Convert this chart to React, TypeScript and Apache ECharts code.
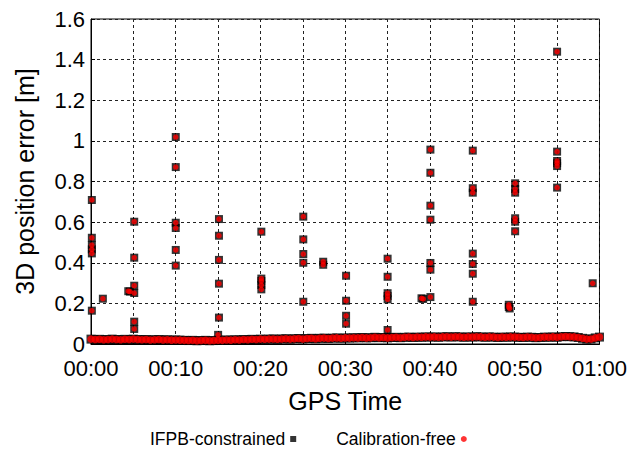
import React, { useEffect, useRef } from "react";
import * as echarts from "echarts";

// Sample spacing of the dense baseline (minutes)
const baselineStep = 0.5;
// 3D position error of the dense baseline, one value per 0.5 min from 00:00 to 01:00
const baselineValues = [
  0.024, 0.022, 0.023, 0.021, 0.022, 0.024, 0.022, 0.021, 0.023, 0.022, 0.024, 0.022, 0.021, 0.022, 0.020, 0.021, 0.022, 0.020, 0.021, 0.019, 0.020,
  0.019, 0.018, 0.017, 0.018, 0.016, 0.017, 0.018, 0.016, 0.017, 0.019, 0.018, 0.020, 0.019, 0.021, 0.020, 0.022, 0.021, 0.023, 0.022, 0.024,
  0.023, 0.024, 0.025, 0.023, 0.025, 0.026, 0.024, 0.026, 0.027, 0.025, 0.027, 0.028, 0.026, 0.028, 0.029, 0.027, 0.029, 0.030, 0.028, 0.030,
  0.029, 0.031, 0.030, 0.032, 0.030, 0.031, 0.033, 0.031, 0.032, 0.030, 0.032, 0.033, 0.031, 0.033, 0.034, 0.032, 0.034, 0.033, 0.035, 0.034,
  0.035, 0.033, 0.035, 0.036, 0.034, 0.036, 0.035, 0.033, 0.035, 0.034, 0.036, 0.035, 0.033, 0.035, 0.034, 0.032, 0.034, 0.033, 0.035, 0.034,
  0.033, 0.032, 0.034, 0.033, 0.031, 0.032, 0.034, 0.033, 0.035, 0.033, 0.036, 0.037, 0.036, 0.035, 0.032, 0.028, 0.024, 0.025, 0.030, 0.034,
];

// Outlier epochs: [minute, error in m]
const outliers: [number, number][] = [
  [0.1, 0.709], [0.1, 0.523], [0.1, 0.487], [0.1, 0.466], [0.1, 0.446], [0.1, 0.164],
  [1.4, 0.223],
  [4.4, 0.26], [4.6, 0.258],
  [5.1, 0.602], [5.1, 0.425], [5.1, 0.287], [5.1, 0.251], [5.1, 0.11], [5.1, 0.074],
  [10.0, 1.019], [10.0, 0.871], [10.0, 0.597], [10.0, 0.571], [10.0, 0.463], [10.0, 0.386],
  [15.1, 0.615], [15.1, 0.533], [15.1, 0.414], [15.1, 0.297], [15.1, 0.13], [15.0, 0.045],
  [20.1, 0.553], [20.1, 0.322], [20.1, 0.31], [20.1, 0.29], [20.1, 0.269],
  [25.05, 0.627], [25.05, 0.515], [25.05, 0.443], [25.05, 0.4], [25.05, 0.208],
  [27.4, 0.405], [27.4, 0.39],
  [30.1, 0.336], [30.1, 0.213], [30.1, 0.139], [30.1, 0.1],
  [35.0, 0.42], [35.0, 0.331], [35.0, 0.25], [35.0, 0.236], [35.0, 0.22], [35.0, 0.069],
  [39.0, 0.225], [39.2, 0.222],
  [40.05, 0.957], [40.05, 0.843], [40.05, 0.681], [40.05, 0.612], [40.05, 0.399], [40.05, 0.366], [40.05, 0.231],
  [45.05, 0.952], [45.05, 0.767], [45.05, 0.745], [45.05, 0.445], [45.05, 0.394], [45.05, 0.346], [45.05, 0.208],
  [49.3, 0.193], [49.3, 0.182], [49.4, 0.175],
  [50.05, 0.791], [50.05, 0.763], [50.05, 0.745], [50.05, 0.619], [50.05, 0.602], [50.05, 0.555],
  [55.0, 1.439], [55.0, 0.947], [55.0, 0.901], [55.0, 0.89], [55.0, 0.876], [55.0, 0.77],
  [59.2, 0.299],
];

const seriesNames = ["IFPB-constrained", "Calibration-free"];
const xTickMinutes = [0, 10, 20, 30, 40, 50, 60];

const FONT = "Liberation Sans, Arial, sans-serif";

function fmtTime(m: number): string {
  const h = Math.floor(m / 60);
  const mm = Math.round(m % 60);
  return `${String(h).padStart(2, "0")}:${String(mm).padStart(2, "0")}`;
}

export default function App() {
  const ref = useRef<HTMLDivElement>(null);
  useEffect(() => {
    if (!ref.current) return;
    const chart = echarts.init(ref.current, undefined, { renderer: "svg" });
    const baseline = baselineValues.map((v, i) => [i * baselineStep, v]);
    const gridLine = { show: true, lineStyle: { color: "#222", type: [3, 3] as any, width: 1 } };
    chart.setOption({
      animation: false,
      backgroundColor: "#fff",
      grid: { left: 91, top: 19, width: 514, height: 325, show: true, borderColor: "#000", borderWidth: 1, backgroundColor: "transparent" },
      legend: {
        top: 425,
        left: 145,
        align: "right",
        itemGap: 40,
        itemWidth: 6,
        itemHeight: 6,
        textStyle: { fontFamily: FONT, fontSize: 17.5, color: "#000" },
        data: [
          { name: seriesNames[0], icon: "rect", itemStyle: { color: "#000" } },
          { name: seriesNames[1], icon: "circle", itemStyle: { color: "#ff0000" } },
        ],
      },
      xAxis: {
        type: "value",
        min: 0,
        max: 60,
        interval: 5,
        name: "GPS Time",
        nameLocation: "middle",
        nameGap: 44,
        nameTextStyle: { fontFamily: FONT, fontSize: 25, color: "#000" },
        axisLine: { lineStyle: { color: "#000" } },
        axisTick: { inside: true, length: 4, lineStyle: { color: "#000" } },
        axisLabel: {
          fontFamily: FONT,
          fontSize: 22,
          lineHeight: 18,
          color: "#000",
          margin: 15,
          formatter: (v: number) => (xTickMinutes.includes(v) ? fmtTime(v) : ""),
        },
        splitLine: gridLine,
      },
      yAxis: {
        type: "value",
        min: 0,
        max: 1.6,
        interval: 0.2,
        name: "3D position error [m]",
        nameLocation: "middle",
        nameGap: 54,
        nameTextStyle: { fontFamily: FONT, fontSize: 25, color: "#000" },
        axisLine: { show: true, lineStyle: { color: "#000" } },
        axisTick: { inside: true, length: 4, lineStyle: { color: "#000" } },
        axisLabel: {
          fontFamily: FONT,
          fontSize: 22,
          lineHeight: 18,
          color: "#000",
          margin: 6,
          formatter: (v: number) => String(Math.round(v * 10) / 10),
        },
        splitLine: gridLine,
      },
      series: [
        {
          name: seriesNames[0],
          type: "scatter",
          symbol: "rect",
          symbolSize: 9,
          itemStyle: { color: "#000" },
          data: baseline,
          z: 2,
        },
        {
          name: seriesNames[0],
          type: "scatter",
          symbol: "rect",
          symbolSize: 8,
          itemStyle: { color: "#000" },
          data: outliers,
          z: 2,
        },
        {
          name: seriesNames[1],
          type: "scatter",
          symbol: "circle",
          symbolSize: 7.5,
          itemStyle: { color: "#ff0000" },
          data: baseline,
          z: 3,
        },
        {
          name: seriesNames[1],
          type: "scatter",
          symbol: "circle",
          symbolSize: 5.5,
          itemStyle: { color: "#ff0000" },
          data: outliers,
          z: 3,
        },
      ],
    });
    return () => chart.dispose();
  }, []);
  return (
    <div
      ref={ref}
      style={{ position: "fixed", left: 0, top: 0, width: 630, height: 450, background: "#fff" }}
    />
  );
}
